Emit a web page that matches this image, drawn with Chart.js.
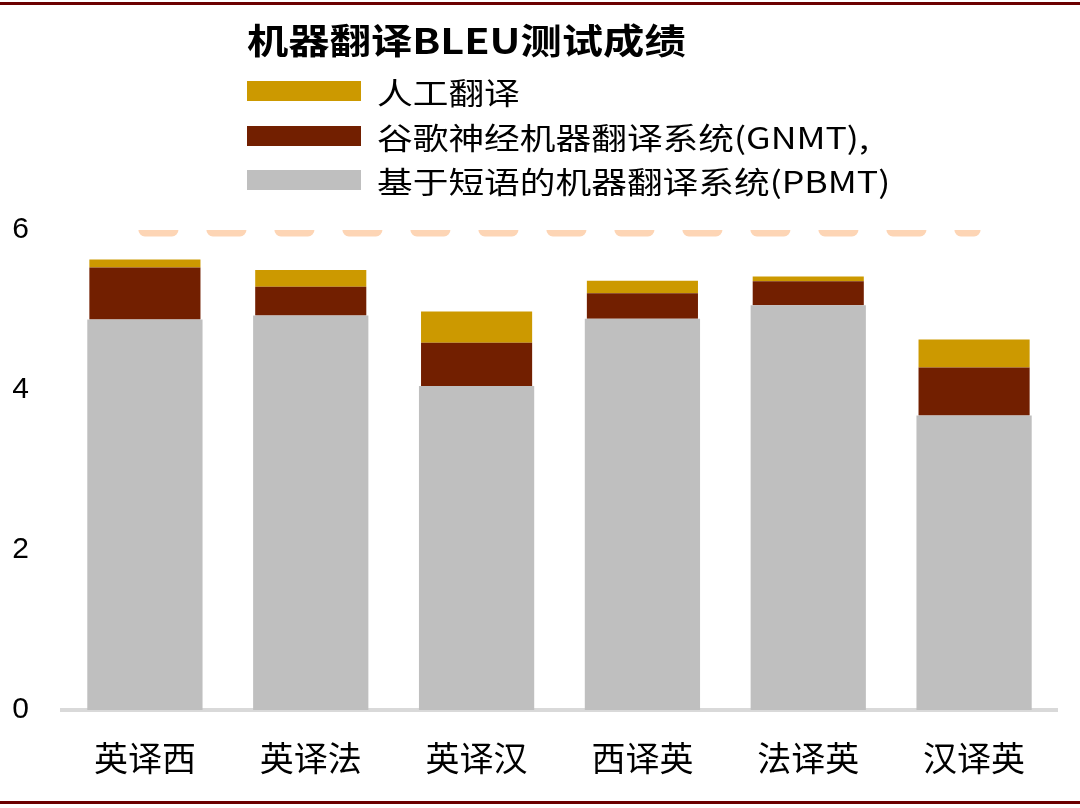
<!DOCTYPE html>
<html>
<head>
<meta charset="utf-8">
<script src="https://cdn.jsdelivr.net/npm/chart.js@4"></script>
<style>
  body { margin: 0; background: #fff; }
  #wrap { position: relative; width: 1080px; height: 808px; overflow: hidden; }
  #chart { position: absolute; left: 0; top: 0; }
  .rule { position: absolute; left: 0; width: 1080px; height: 3px; background: #6b0000; }
  #title { position: absolute; left: 247px; top: 21px; font: bold 35px "Noto Sans CJK SC"; line-height: 35px;
           transform: scaleX(1.18); transform-origin: left center; white-space: nowrap; color: #000; }
  .lg { position: absolute; left: 247px; height: 30px; display: flex; align-items: center; white-space: nowrap; }
  .lg .box { width: 114px; height: 20px; margin-right: 16px; }
  .lg .txt { font: 30px "Noto Sans CJK SC"; line-height: 30px; color: #000;
             transform: scaleX(1.19); transform-origin: left center; }
</style>
</head>
<body>
<div id="wrap">
  <canvas id="chart" width="1080" height="808"></canvas>
  <div class="rule" style="top:2px"></div>
  <div class="rule" style="top:801px"></div>
  <div id="title"></div>
  <div id="legend"></div>
</div>
<script>
const titleText = '机器翻译BLEU测试成绩';
const categories = ['英译西', '英译法', '英译汉', '西译英', '法译英', '汉译英'];
const pbmt = [4.88, 4.93, 4.05, 4.89, 5.06, 3.68];
const gnmt = [0.65, 0.36, 0.54, 0.32, 0.30, 0.60];
const human = [0.10, 0.21, 0.39, 0.155, 0.06, 0.35];
const refLine = [6, 6, 6, 6, 6, 6];
const yTicks = [0, 2, 4, 6];

document.getElementById('title').innerText = titleText;

const chart = new Chart(document.getElementById('chart'), {
  type: 'bar',
  data: {
    labels: categories,
    datasets: [
      {
        label: '基于短语的机器翻译系统(PBMT)',
        data: pbmt,
        backgroundColor: '#bfbfbf',
        barPercentage: 0.695,
        categoryPercentage: 1,
        stack: 's'
      },
      {
        label: '谷歌神经机器翻译系统(GNMT),',
        data: gnmt,
        backgroundColor: '#721f00',
        barPercentage: 0.67,
        categoryPercentage: 1,
        stack: 's'
      },
      {
        label: '人工翻译',
        data: human,
        backgroundColor: '#cc9900',
        barPercentage: 0.67,
        categoryPercentage: 1,
        stack: 's'
      },
      {
        type: 'line',
        label: 'ref',
        data: refLine,
        borderColor: '#fdd5b5',
        borderWidth: 13,
        borderDash: [27, 41],
        borderCapStyle: 'round',
        pointRadius: 0,
        stack: 'ref',
        clip: { left: 20, top: 0, right: 20, bottom: 20 }
      }
    ]
  },
  options: {
    responsive: false,
    animation: false,
    layout: {
      padding: { top: 230, left: 13, right: 23, bottom: 29 }
    },
    plugins: {
      legend: { display: false },
      title: { display: false },
      tooltip: { enabled: false }
    },
    scales: {
      x: {
        stacked: true,
        grid: { display: false, drawTicks: false },
        border: { display: true, color: '#d9d9d9', width: 4 },
        afterFit: function(axis) { axis.height = 69; },
        ticks: {
          color: '#000',
          padding: 28,
          font: { family: 'Noto Sans CJK SC', size: 34 }
        }
      },
      y: {
        stacked: true,
        min: 0,
        max: 6,
        grid: { display: false, drawTicks: false },
        border: { display: false },
        afterFit: function(axis) { axis.width = 49; },
        afterBuildTicks: function(axis) {
          axis.ticks = yTicks.map(v => ({ value: v }));
        },
        ticks: {
          color: '#000',
          padding: 33,
          font: { family: 'Liberation Sans', size: 30 }
        }
      }
    }
  }
});

// legend built from the bar datasets, top item = top of stack
const legendDiv = document.getElementById('legend');
const rowTops = [76, 121, 165];
chart.data.datasets.filter(d => d.type !== 'line').slice().reverse().forEach(function(ds, i) {
  const row = document.createElement('div');
  row.className = 'lg';
  row.style.top = rowTops[i] + 'px';
  row.innerHTML = '<div class="box" style="background:' + ds.backgroundColor + '"></div><span class="txt"></span>';
  row.querySelector('.txt').innerText = ds.label;
  legendDiv.appendChild(row);
});
</script>
</body>
</html>
